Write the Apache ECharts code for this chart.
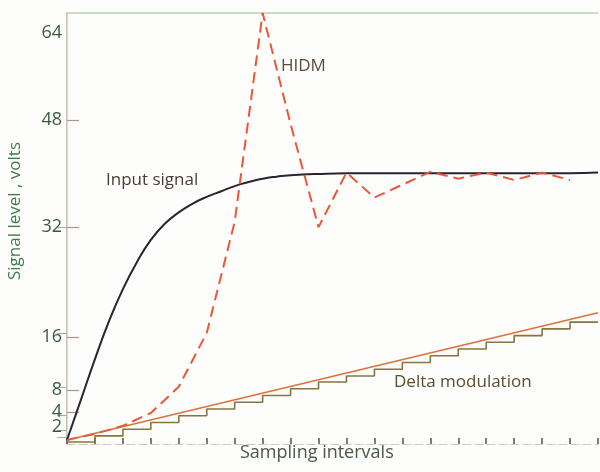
<!DOCTYPE html>
<html><head><meta charset="utf-8">
<script src="https://cdn.jsdelivr.net/npm/echarts@6/dist/echarts.min.js"></script>
<style>html,body{margin:0;padding:0;background:#fdfdfb}#c{width:600px;height:472px}</style>
</head><body><div id="c"></div>
<script>
// Sampling interval ticks
var xTicks = [0,1,2,3,4,5,6,7,8,9,10,11,12,13,14,15,16,17,18,19];
// Y tick labels (text) and where the figure draws them on the volt scale
var yLabelText = ['1','2','4','8','16','32','48','64'];
var yLabelPos  = [0.15, 2.5, 4.75, 8.0, 15.9, 32.2, 48.1, 61.0];
var yTickPos   = [4.75, 8.0, 15.9, 32.2, 48.1];
var rightTickPos = [1.0, 2.1, 4.3, 8.4, 16.4, 32.2];

// Input signal
var inputX = [0,0.5,1,1.5,2,2.5,3,3.5,4,4.5,5,5.5,6,6.5,7,7.5,8,9,10,11,12,13,14,15,16,17,18,19];
var inputY = [0.6,6.6,12.6,18.2,23.0,27.0,30.3,32.7,34.4,35.7,36.7,37.5,38.3,38.9,39.4,39.7,39.9,40.1,40.2,40.2,40.2,40.2,40.2,40.2,40.2,40.2,40.2,40.3];

// HIDM
var hidmX = [0,1,2,3,4,5,6,7,8,9,10,11,12,13,14,15,16,17,18];
var hidmY = [0.6,1.5,2.7,4.6,8.5,16.5,33.0,64.0,47.5,32.2,40.3,36.6,38.5,40.4,39.4,40.3,39.2,40.3,39.2];

// Delta modulation: ramp and staircase approximation
var rampX = [0,19];
var rampY = [0.6,19.5];
var stairX = [0,1,2,3,4,5,6,7,8,9,10,11,12,13,14,15,16,17,18,19];
var stairY = [0.3,1.2,2.2,3.2,4.2,5.2,6.2,7.2,8.2,9.2,10.1,11.1,12.1,13.1,14.1,15.1,16.1,17.1,18.1,18.1];

function pairs(xs, ys){ return xs.map(function(x,i){ return [x, ys[i]]; }); }

var chart = echarts.init(document.getElementById('c'));
var font = 'Open Sans, Liberation Sans, sans-serif';
chart.setOption({
  backgroundColor: '#fdfdfb',
  animation: false,
  grid: {left: 67, right: 2, top: 13, bottom: 28},
  xAxis: [{
    type: 'value', min: 0, max: 19, interval: 1, position: 'bottom',
    axisLine: {show: true, lineStyle: {color: '#cfc8c0', width: 1, type: [8,4]}},
    axisTick: {show: true, inside: true, length: 6, lineStyle: {color: '#5e4e40', width: 1.5}},
    axisLabel: {show: false}, splitLine: {show: false}
  },{
    type: 'value', min: 0, max: 19, position: 'top',
    axisLine: {show: true, onZero: false, lineStyle: {color: '#bcd0b4', width: 1.5}},
    axisTick: {show: false}, axisLabel: {show: false}, splitLine: {show: false}
  }],
  yAxis: [{
    type: 'value', min: 0, max: 64, position: 'left',
    axisLine: {show: true, lineStyle: {color: '#b8aca4', width: 1.5}},
    axisTick: {show: true, inside: true, length: 12, customValues: yTickPos, lineStyle: {color: '#a89890', width: 1.2}},
    axisLabel: {show: true, customValues: yLabelPos, margin: 5, color: '#3b5a3e',
      fontFamily: font, fontSize: 18,
      formatter: function(v){ var i = yLabelPos.indexOf(v); return i >= 0 ? yLabelText[i] : ''; }},
    splitLine: {show: false}
  },{
    type: 'value', min: 0, max: 64, position: 'right',
    axisLine: {show: true, lineStyle: {color: '#d8dcd4', width: 1}},
    axisTick: {show: true, inside: true, length: 10, customValues: rightTickPos, lineStyle: {color: '#a8b0a0', width: 1}},
    axisLabel: {show: false}, splitLine: {show: false}
  }],
  series: [
    {name: 'Staircase', type: 'line', step: 'end', data: pairs(stairX, stairY), showSymbol: false,
     lineStyle: {color: '#857540', width: 1.6}, z: 2},
    {name: 'Delta modulation', type: 'line', data: pairs(rampX, rampY), showSymbol: false,
     lineStyle: {color: '#e0703c', width: 1.6}, z: 3},
    {name: 'Input signal', type: 'line', smooth: 0.5, data: pairs(inputX, inputY), showSymbol: false,
     lineStyle: {color: '#2c2230', width: 2}, z: 4},
    {name: 'HIDM', type: 'line', data: pairs(hidmX, hidmY), showSymbol: false,
     lineStyle: {color: '#e85838', width: 2, type: [11,6]}, z: 5}
  ],
  graphic: [
    {type: 'text', left: 106, top: 172, style: {text: 'Input signal', fill: '#4a3c34', font: '17px ' + font}},
    {type: 'text', left: 281, top: 58, style: {text: 'HIDM', fill: '#5a4c3c', font: '17px ' + font}},
    {type: 'text', left: 394, top: 374, style: {text: 'Delta modulation', fill: '#5c4c30', font: '17px ' + font}},
    {type: 'text', left: 240, top: 444, style: {text: 'Sampling intervals', fill: '#4a5848', font: '18px ' + font}},
    {type: 'text', x: 15, y: 211, rotation: Math.PI/2, style: {text: 'Signal level , volts', fill: '#3f7a4e', font: '17px ' + font, align: 'center', verticalAlign: 'middle'}}
  ]
});
</script></body></html>
